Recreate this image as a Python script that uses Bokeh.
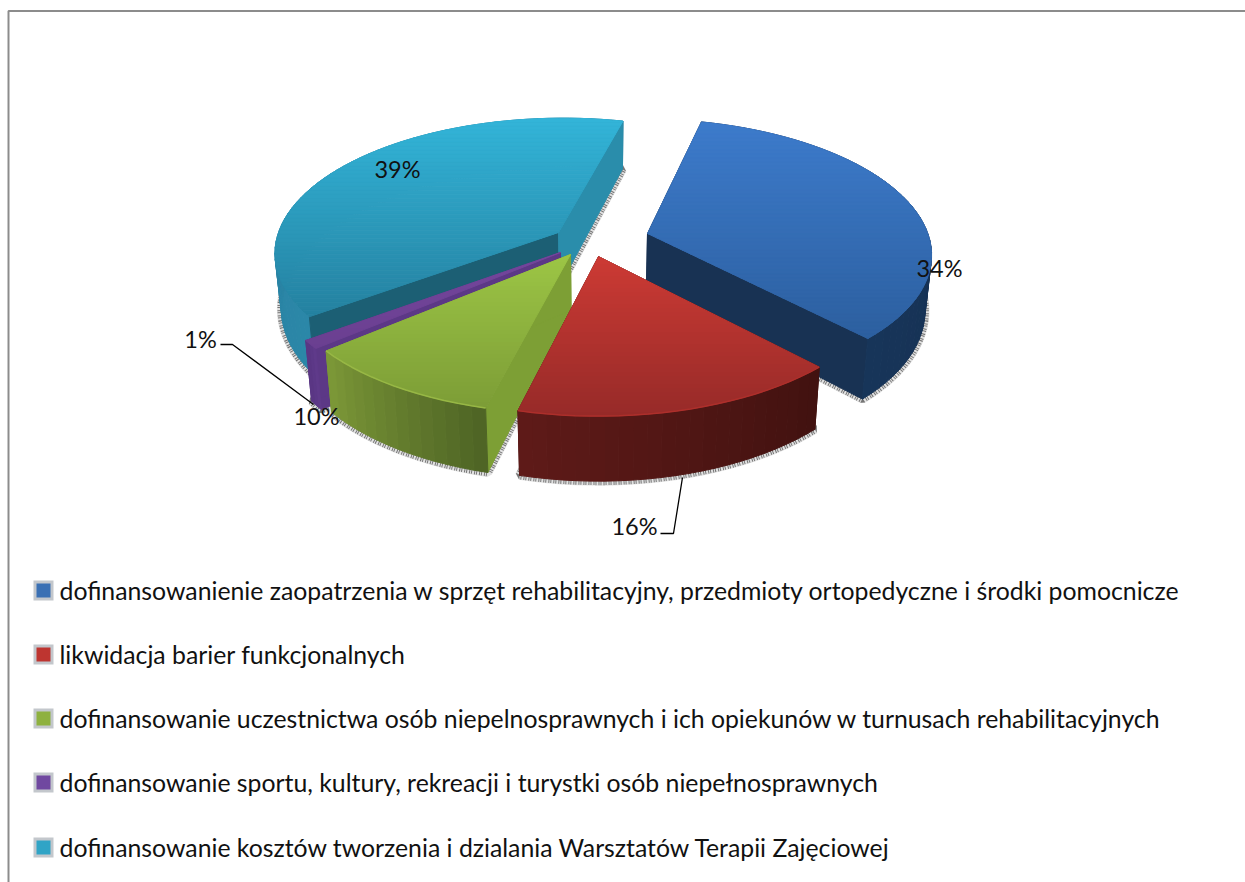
import math
from bokeh.plotting import figure
from bokeh.models import ColumnDataSource
from bokeh.core.properties import value
from bokeh.embed import file_html
from bokeh.resources import INLINE

# ---- chart data
categories = [
    "dofinansowanienie zaopatrzenia  w sprzęt rehabilitacyjny, przedmioty ortopedyczne i środki pomocnicze",
    "likwidacja barier funkcjonalnych",
    "dofinansowanie uczestnictwa osób niepelnosprawnych i ich opiekunów w turnusach rehabilitacyjnych",
    "dofinansowanie sportu, kultury, rekreacji i turystki osób niepełnosprawnych",
    "dofinansowanie kosztów tworzenia i dzialania Warsztatów Terapii Zajęciowej",
]
values = [34, 16, 10, 1, 39]
labels = ["34%", "16%", "10%", "1%", "39%"]

# ---- styling / layout
W, H = 1245, 882
FIRST_ANGLE = 14.0
CENTER = (598, 242)
SLICE_ORIGIN = [(647, 233), (598, 256), (570, 254), (560, 252), (558, 232)]
R, K, P, D0, F = 283.0, 133.0, 0.14, 55.0, 0.98
STYLE = [  # top gradient start/end, wall at first edge, wall at last edge, rim start/end, highlight
    dict(t0="#3d7bcb", t1="#2c5f9f", w0="#14294a", w1="#183253", r0="#14294a", r1="#173559", hi=None),
    dict(t0="#cc3a34", t1="#962a28", w0="#4a1412", w1="#4a1412", r0="#421210", r1="#5e1a18", hi="#ad2f2b"),
    dict(t0="#9cc545", t1="#7c9c36", w0="#7d9f35", w1="#7d9f35", r0="#4f6525", r1="#7b9737", hi="#97b745"),
    dict(t0="#74469c", t1="#6a3f90", w0="#5c3886", w1="#5c3886", r0="#5f3a8a", r1="#5a3684", hi=None),
    dict(t0="#33b4d8", t1="#24809f", w0="#1c5f74", w1="#2a8dab", r0="#2b87a8", r1="#267a98", hi=None),
]
DRAW_ORDER = [4, 3, 2, 0, 1]
WALLS_OVER_RIM = {4}
LEGEND_Y = [590, 654, 718, 782, 847]
LEGEND_COL = ["#3a70b4", "#be3530", "#8eb13f", "#7048a0", "#30a4c6"]
LABEL_POS = [(939, 267), (634, 525), (316, 415), (200, 338), (397, 168)]
FONT = "Lato"
FS_LEG, FS_LAB = "24.8px", "23.5px"


def hex2(c):
    return [int(c[i:i + 2], 16) for i in (1, 3, 5)]


def mix(a, b, t):
    t = max(0.0, min(1.0, t))
    A, B = hex2(a), hex2(b)
    return "#%02x%02x%02x" % tuple(round(A[i] + (B[i] - A[i]) * t) for i in range(3))


def to_ground(x, y):
    s = -(y - CENTER[1]) / K
    v = s / (1 - P * s)
    return (x - CENTER[0]) * (1 + P * v) / R, v


def project(u, v, bottom=False):
    w = 1 + P * v
    x, y = CENTER[0] + R * u / w, CENTER[1] - K * v / w
    if bottom:
        return CENTER[0] + (x - CENTER[0]) * F, y + D0 / w
    return x, y


def clip(poly, y0, y1):
    def run(pts, keep, cross):
        out = []
        for i, a in enumerate(pts):
            b = pts[(i + 1) % len(pts)]
            if keep(a):
                out.append(a)
            if keep(a) != keep(b):
                t = (cross - a[1]) / (b[1] - a[1])
                out.append((a[0] + (b[0] - a[0]) * t, cross))
        return out
    pts = run(poly, lambda p: p[1] >= y0, y0)
    return run(pts, lambda p: p[1] <= y1, y1) if pts else []


p = figure(width=W, height=H, x_range=(0, W), y_range=(H, 0),
           output_backend="svg", toolbar_location=None, min_border=0,
           background_fill_color="white", border_fill_color="white")
p.axis.visible = False
p.grid.visible = False
p.outline_line_color = None

# chart frame: only the top and left edges are in view
p.line([8, 8, W], [H, 10.5, 10.5], line_color="#8c8c8c", line_width=2)

total = sum(values)
spans, a = [], FIRST_ANGLE
for val in values:
    spans.append((a, a + 360.0 * val / total))
    a += 360.0 * val / total

for i in DRAW_ORDER:
    st = STYLE[i]
    a0, a1 = spans[i]
    ou, ov = to_ground(*SLICE_ORIGIN[i])
    n = max(3, int((a1 - a0) / 2.5))
    angs = [a0 + (a1 - a0) * j / n for j in range(n + 1)]
    gr = [(ou + math.sin(math.radians(d)), ov + math.cos(math.radians(d))) for d in angs]
    top = [project(u, v) for u, v in gr]
    bot = [project(u, v, True) for u, v in gr]
    apex = project(ou, ov)
    apex_b = project(ou, ov, True)

    # speckled shadow halo round the lower outline
    hx = [apex_b[0]] + [q[0] for q in bot] + [apex_b[0]]
    hy = [apex_b[1]] + [q[1] for q in bot] + [apex_b[1]]
    p.line(hx, hy, line_color="#e2e2e2", line_width=9)
    p.line(hx, hy, line_color="#757575", line_width=8, line_dash="1 2 1 1")

    rim_parts = []
    for j in range(n):
        rim_parts.append(([top[j][0], top[j + 1][0], bot[j + 1][0], bot[j][0]],
                          [top[j][1], top[j + 1][1], bot[j + 1][1], bot[j][1]],
                          mix(st["r0"], st["r1"], j / (n - 1))))
    wall_parts = []
    for (o, o_b, col) in ((top[0], bot[0], st["w0"]), (top[-1], bot[-1], st["w1"])):
        wall_parts.append(([apex[0], o[0], o_b[0], apex_b[0]],
                           [apex[1], o[1], o_b[1], apex_b[1]], col))
    parts = rim_parts + wall_parts if i in WALLS_OVER_RIM else wall_parts + rim_parts
    xs = [q[0] for q in parts]
    ys = [q[1] for q in parts]
    cs = [q[2] for q in parts]
    # top surface, shaded from far to near
    poly = [apex] + top
    ymin, ymax = min(q[1] for q in poly), max(q[1] for q in poly)
    step, y = 4.0, ymin
    while y < ymax:
        part = clip(poly, y, y + step)
        if len(part) >= 3:
            xs.append([q[0] for q in part])
            ys.append([q[1] for q in part])
            cs.append(mix(st["t0"], st["t1"], (y - ymin) / max(1.0, ymax - ymin)))
        y += step
    p.patches("x", "y", source=ColumnDataSource(dict(x=xs, y=ys, c=cs)),
              fill_color="c", line_color="c", line_width=1)
    if st["hi"]:
        p.line([q[0] for q in top], [q[1] for q in top], line_color=st["hi"], line_width=1.5)

# leader lines
for lx, ly in (([220, 232, 313], [344, 344, 404]), ([660, 673, 682], [533, 533, 477])):
    p.line(lx, ly, line_color="black", line_width=1.3)

# data labels
p.text([q[0] for q in LABEL_POS], [q[1] for q in LABEL_POS], text=labels,
       text_font=value(FONT), text_font_size=value(FS_LAB), text_color="#111111",
       text_align="center", text_baseline="middle")

# legend
for col, y, cat in zip(LEGEND_COL, LEGEND_Y, categories):
    p.rect([43], [y], width=20, height=20, fill_color="#c3c7cc", line_color=None)
    p.rect([43], [y], width=14, height=14, fill_color=col, line_color=None)
    p.text([59], [y - 0.5], text=[cat], text_font=value(FONT), text_font_size=value(FS_LEG),
           text_color="#111111", text_align="left", text_baseline="middle")

open("out.html", "w").write(file_html(p, INLINE))
